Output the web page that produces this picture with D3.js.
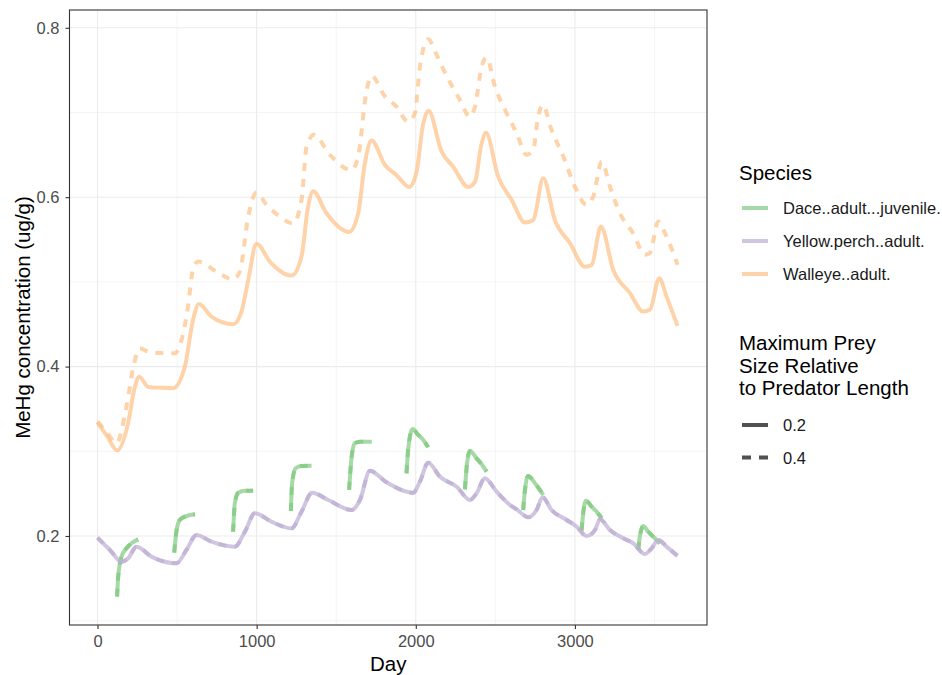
<!DOCTYPE html>
<html>
<head>
<meta charset="utf-8">
<script src="https://cdn.jsdelivr.net/npm/d3@7"></script>
<style>
  html, body { margin: 0; padding: 0; background: #fff; }
  svg { display: block; font-family: "Liberation Sans", Arial, sans-serif; }
</style>
</head>
<body>
<svg id="chart" width="942" height="675"></svg>
<script>
// MeHg concentration over time, by species and maximum prey size
const xTicks = [0, 1000, 2000, 3000];
const xMinor = [500, 1500, 2500, 3500];
const yTicks = [0.2, 0.4, 0.6, 0.8];
const yMinor = [0.1, 0.3, 0.5, 0.7];

const speciesNames = ["Dace..adult...juvenile.", "Yellow.perch..adult.", "Walleye..adult."];
const speciesColors = ["#7FC97F", "#BEAED4", "#FDC086"];
const preySizes = ["0.2", "0.4"];

// [day, MeHg ug/g]
const walleye02 = [
  [0, 0.334], [60, 0.318], [123, 0.301], [192, 0.333], [230, 0.372], [262, 0.388],
  [318, 0.376], [400, 0.375], [475, 0.3745], [549, 0.40], [600, 0.455], [637, 0.474],
  [716, 0.459], [852, 0.450], [905, 0.465], [947, 0.502], [999, 0.545], [1083, 0.524],
  [1219, 0.5074], [1282, 0.530], [1320, 0.585], [1355, 0.607], [1439, 0.581], [1581, 0.559],
  [1638, 0.581], [1680, 0.640], [1722, 0.667], [1806, 0.638], [1879, 0.626], [1959, 0.612],
  [2005, 0.630], [2045, 0.685], [2080, 0.702], [2162, 0.654], [2235, 0.636], [2330, 0.612],
  [2372, 0.618], [2410, 0.660], [2441, 0.676], [2518, 0.624], [2602, 0.597], [2686, 0.570],
  [2738, 0.573], [2801, 0.6225], [2874, 0.573], [2969, 0.5457], [3063, 0.518], [3105, 0.520],
  [3163, 0.5653], [3241, 0.514], [3346, 0.4867], [3429, 0.465], [3471, 0.467], [3530, 0.5044],
  [3576, 0.4826], [3645, 0.448]
];

const walleye04 = [
  [0, 0.335], [60, 0.322], [119, 0.3095], [182, 0.353], [230, 0.404], [266, 0.4217],
  [318, 0.4177], [400, 0.416], [486, 0.4158], [528, 0.4315], [569, 0.4708], [600, 0.515],
  [632, 0.524], [748, 0.512], [852, 0.503], [894, 0.512], [947, 0.577], [999, 0.6055],
  [1062, 0.591], [1146, 0.577], [1229, 0.569], [1282, 0.597], [1314, 0.660], [1360, 0.6736],
  [1460, 0.650], [1597, 0.632], [1638, 0.648], [1690, 0.725], [1722, 0.7433], [1806, 0.719],
  [1879, 0.707], [1952, 0.689], [1994, 0.699], [2026, 0.754], [2078, 0.7866], [2131, 0.768],
  [2194, 0.743], [2277, 0.715], [2340, 0.695], [2372, 0.707], [2414, 0.754], [2445, 0.765],
  [2497, 0.731], [2571, 0.699], [2634, 0.6756], [2696, 0.650], [2738, 0.656], [2769, 0.695],
  [2797, 0.709], [2853, 0.6795], [2927, 0.648], [3000, 0.6126], [3073, 0.591], [3115, 0.6007],
  [3168, 0.642], [3220, 0.6126], [3283, 0.581], [3366, 0.5575], [3440, 0.532], [3471, 0.534],
  [3524, 0.5712], [3566, 0.5575], [3645, 0.520]
];

const yellowPerch = [
  [0, 0.198], [78, 0.1835], [151, 0.1697], [193, 0.1737], [245, 0.1874], [339, 0.1756],
  [497, 0.1678], [559, 0.1835], [622, 0.2012], [716, 0.1933], [863, 0.1874], [926, 0.205],
  [989, 0.2268], [1093, 0.2169], [1219, 0.209], [1282, 0.2287], [1349, 0.2511], [1450, 0.2425],
  [1597, 0.2307], [1649, 0.2425], [1712, 0.2771], [1811, 0.2641], [1984, 0.2511], [2026, 0.2641],
  [2078, 0.2866], [2152, 0.270], [2257, 0.2582], [2340, 0.2425], [2382, 0.2504], [2434, 0.2681],
  [2508, 0.2523], [2592, 0.2366], [2634, 0.2315], [2706, 0.2221], [2759, 0.2307], [2797, 0.2457],
  [2853, 0.2307], [2948, 0.2189], [3011, 0.211], [3073, 0.200], [3126, 0.207], [3157, 0.2197],
  [3220, 0.207], [3304, 0.1973], [3366, 0.1914], [3440, 0.1787], [3482, 0.1855], [3524, 0.1953],
  [3576, 0.1874], [3645, 0.1764]
];

// Juvenile dace are present for part of each year: one segment per season
const daceSeasons = [
  [[123, 0.1283], [130, 0.152], [151, 0.1756], [182, 0.1855], [214, 0.1914], [255, 0.196]],
  [[482, 0.1803], [497, 0.207], [517, 0.2189], [549, 0.2228], [612, 0.2256]],
  [[852, 0.205], [863, 0.2386], [884, 0.2511], [926, 0.2535], [978, 0.2535]],
  [[1215, 0.2295], [1223, 0.2622], [1245, 0.280], [1282, 0.2827], [1345, 0.283]],
  [[1581, 0.2543], [1597, 0.2937], [1617, 0.3095], [1649, 0.3114], [1722, 0.3114]],
  [[1942, 0.274], [1952, 0.3016], [1980, 0.3264], [2015, 0.3193], [2047, 0.3134], [2078, 0.3048]],
  [[2309, 0.2551], [2319, 0.280], [2340, 0.3004], [2382, 0.2917], [2414, 0.2847], [2445, 0.276]],
  [[2675, 0.2307], [2686, 0.2543], [2706, 0.2709], [2749, 0.2622], [2780, 0.2543], [2801, 0.2484]],
  [[3042, 0.2063], [3052, 0.2268], [3069, 0.2417], [3105, 0.2346], [3136, 0.2287], [3168, 0.2209]],
  [[3398, 0.1835], [3408, 0.1992], [3429, 0.2118], [3461, 0.205], [3492, 0.1992], [3534, 0.1914]]
];

const svg = d3.select("#chart");
const panel = { left: 69.5, right: 707, top: 10, bottom: 625 };

const x = d3.scaleLinear().domain([-176, 3830]).range([panel.left, panel.right]);
const y = d3.scaleLinear().domain([0.0949, 0.821]).range([panel.bottom, panel.top]);

const LINE_W = 4;
const DASH = "8,8";
const ALPHA = 0.7;
const TITLE_SIZE = "20.5px";
const LABEL_SIZE = "16.5px";

// grid
const grid = svg.append("g");
grid.selectAll(".xmin").data(xMinor).join("line")
  .attr("x1", d => x(d)).attr("x2", d => x(d))
  .attr("y1", panel.top).attr("y2", panel.bottom)
  .attr("stroke", "#EBEBEB").attr("stroke-width", 0.55);
grid.selectAll(".ymin").data(yMinor).join("line")
  .attr("y1", d => y(d)).attr("y2", d => y(d))
  .attr("x1", panel.left).attr("x2", panel.right)
  .attr("stroke", "#EBEBEB").attr("stroke-width", 0.55);
grid.selectAll(".xmaj").data(xTicks).join("line")
  .attr("x1", d => x(d)).attr("x2", d => x(d))
  .attr("y1", panel.top).attr("y2", panel.bottom)
  .attr("stroke", "#EBEBEB").attr("stroke-width", 1.1);
grid.selectAll(".ymaj").data(yTicks).join("line")
  .attr("y1", d => y(d)).attr("y2", d => y(d))
  .attr("x1", panel.left).attr("x2", panel.right)
  .attr("stroke", "#EBEBEB").attr("stroke-width", 1.1);

// series
const line = d3.line().x(d => x(d[0])).y(d => y(d[1])).curve(d3.curveMonotoneX);
const plot = svg.append("g");

function drawSeries(data, color, dashed) {
  plot.append("path")
    .attr("d", line(data))
    .attr("fill", "none")
    .attr("stroke", color)
    .attr("stroke-opacity", ALPHA)
    .attr("stroke-width", LINE_W)
    .attr("stroke-linejoin", "round")
    .attr("stroke-dasharray", dashed ? DASH : null);
}

// dace and yellow perch are identical for both prey-size settings, so both linetypes overlap
daceSeasons.forEach(seg => { drawSeries(seg, speciesColors[0], false); drawSeries(seg, speciesColors[0], true); });
drawSeries(yellowPerch, speciesColors[1], false);
drawSeries(yellowPerch, speciesColors[1], true);
drawSeries(walleye02, speciesColors[2], false);
drawSeries(walleye04, speciesColors[2], true);

// panel border
svg.append("rect")
  .attr("x", panel.left).attr("y", panel.top)
  .attr("width", panel.right - panel.left).attr("height", panel.bottom - panel.top)
  .attr("fill", "none").attr("stroke", "#333333").attr("stroke-width", 1.1);

// axes
const xAxis = svg.append("g").attr("transform", `translate(0,${panel.bottom})`)
  .call(d3.axisBottom(x).tickValues(xTicks).tickFormat(d3.format("d")).tickSize(4).tickPadding(6));
const yAxis = svg.append("g").attr("transform", `translate(${panel.left},0)`)
  .call(d3.axisLeft(y).tickValues(yTicks).tickFormat(d3.format(".1f")).tickSize(4).tickPadding(6));
[xAxis, yAxis].forEach(a => {
  a.select(".domain").remove();
  a.selectAll(".tick line").attr("stroke", "#333333").attr("stroke-width", 1.1);
  a.selectAll(".tick text").attr("fill", "#4D4D4D").style("font-size", LABEL_SIZE)
    .style("font-family", "'Liberation Sans', Arial, sans-serif");
});

// axis titles
svg.append("text")
  .attr("x", (panel.left + panel.right) / 2).attr("y", 671)
  .attr("text-anchor", "middle").style("font-size", TITLE_SIZE).attr("fill", "#000")
  .text("Day");
svg.append("text")
  .attr("transform", `translate(30,${(panel.top + panel.bottom) / 2}) rotate(-90)`)
  .attr("text-anchor", "middle").style("font-size", TITLE_SIZE).attr("fill", "#000")
  .text("MeHg concentration (ug/g)");

// legends
const lg = svg.append("g");
const keyX0 = 742, keyX1 = 768, labelX = 783;
lg.append("text").attr("x", 739).attr("y", 180).style("font-size", TITLE_SIZE).text("Species");
speciesNames.forEach((name, i) => {
  const ky = 208 + i * 33;
  lg.append("line").attr("x1", keyX0).attr("x2", keyX1).attr("y1", ky).attr("y2", ky)
    .attr("stroke", speciesColors[i]).attr("stroke-opacity", ALPHA).attr("stroke-width", LINE_W);
  lg.append("text").attr("x", labelX).attr("y", ky + 6).style("font-size", LABEL_SIZE)
    .attr("fill", "#1a1a1a").text(name);
});

const sizeTitle = ["Maximum Prey", "Size Relative", "to Predator Length"];
sizeTitle.forEach((t, i) => {
  lg.append("text").attr("x", 739).attr("y", 350 + i * 22.5).style("font-size", TITLE_SIZE).text(t);
});
preySizes.forEach((s, i) => {
  const ky = 425 + i * 32.5;
  lg.append("line").attr("x1", keyX0).attr("x2", keyX1).attr("y1", ky).attr("y2", ky)
    .attr("stroke", "#333333").attr("stroke-opacity", ALPHA + 0.15).attr("stroke-width", LINE_W)
    .attr("stroke-dasharray", i === 1 ? "9,8" : null);
  lg.append("text").attr("x", labelX).attr("y", ky + 6).style("font-size", LABEL_SIZE)
    .attr("fill", "#1a1a1a").text(s);
});
</script>
</body>
</html>
